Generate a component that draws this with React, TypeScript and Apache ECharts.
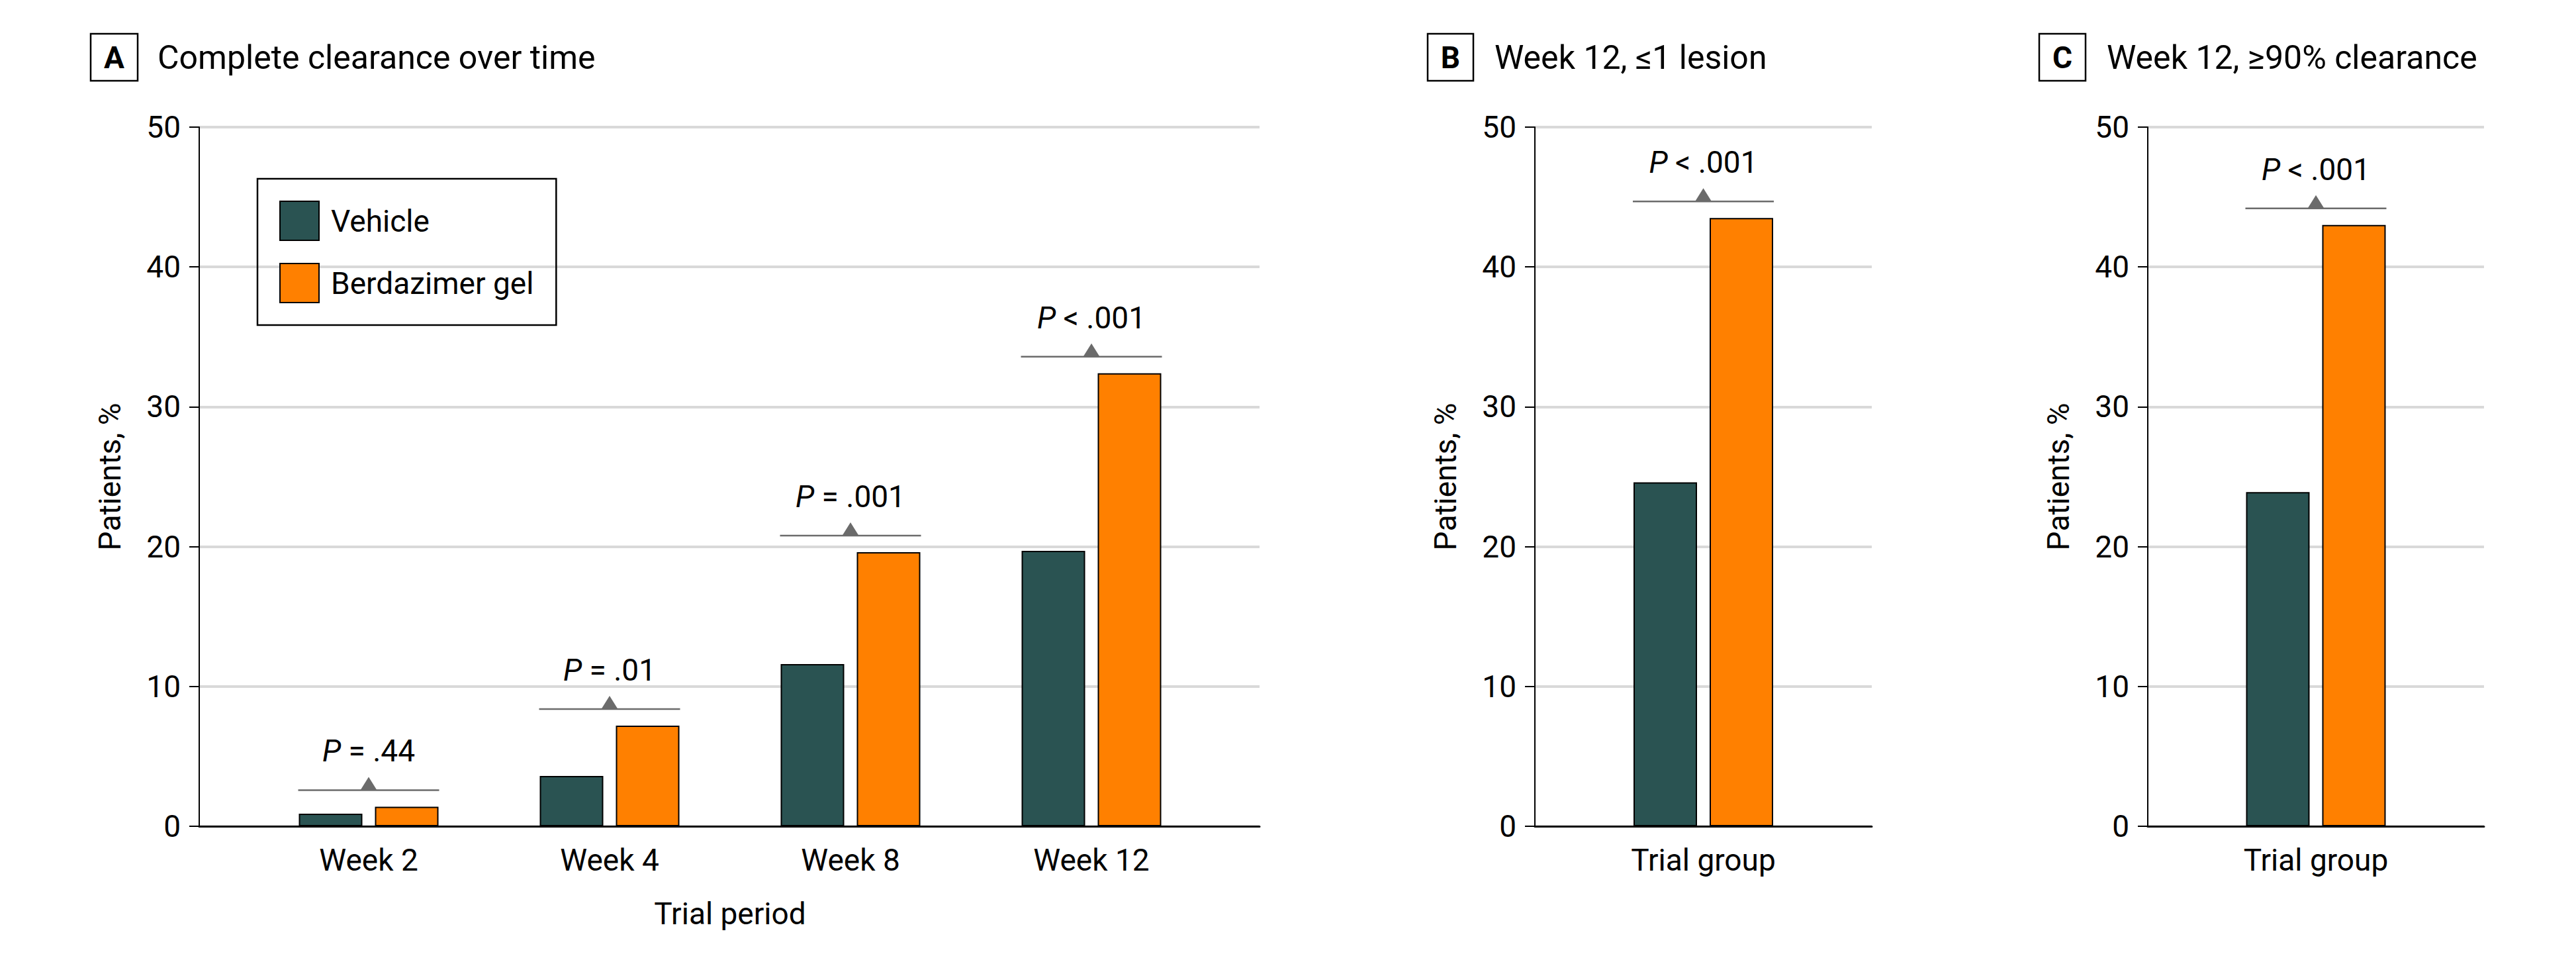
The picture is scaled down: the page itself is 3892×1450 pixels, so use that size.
import React, { useEffect, useRef } from 'react';
import * as echarts from 'echarts';

// ---------- data ----------
const weeks = ['Week 2', 'Week 4', 'Week 8', 'Week 12'];
const vehicleA = [0.9, 3.6, 11.6, 19.7];
const berdazimerA = [1.4, 7.2, 19.6, 32.4];
const pLabelsA = ['= .44', '= .01', '= .001', '< .001'];

const groupB = ['Trial group'];
const vehicleB = [24.6];
const berdazimerB = [43.5];
const pLabelsB = ['< .001'];

const groupC = ['Trial group'];
const vehicleC = [23.9];
const berdazimerC = [43.0];
const pLabelsC = ['< .001'];

const yMin = 0;
const yMax = 50;
const yStep = 10;

const seriesNames = ['Vehicle', 'Berdazimer gel'];
const panelTitles = ['Complete clearance over time', 'Week 12, \u22641 lesion', 'Week 12, \u226590% clearance'];
const panelLetters = ['A', 'B', 'C'];

// ---------- style ----------
const FONT = 'Roboto';
const C_VEH = '#2a5352';
const C_BER = '#ff8000';
const C_GRID = '#d9d9d9';
const C_BRACKET = '#6b6b6b';
const BAR_W = 96;
const BAR_GAP_PX = 19;
const LABEL_SIZE = 46;

const yAxisVisible = (gridIndex: number) => ({
  type: 'value',
  gridIndex,
  min: yMin,
  max: yMax,
  interval: yStep,
  name: 'Patients, %',
  nameLocation: 'middle',
  nameRotate: 90,
  nameGap: 112,
  nameTextStyle: { fontSize: LABEL_SIZE, fontFamily: FONT, color: '#000' },
  axisLine: { show: true, lineStyle: { color: '#000', width: 2 } },
  axisTick: { show: true, length: 15, lineStyle: { color: '#000', width: 2 } },
  axisLabel: { margin: 28, fontSize: LABEL_SIZE, fontFamily: FONT, color: '#000' },
  splitLine: { show: true, lineStyle: { color: C_GRID, width: 4 } },
});

const bracketSeries = (axisIndex: number, labels: string[], v1: number[], v2: number[]) => ({
  type: 'custom',
  xAxisIndex: axisIndex,
  yAxisIndex: axisIndex,
  silent: true,
  z: 10,
  data: labels.map((_, i) => [i, Math.max(v1[i], v2[i])]),
  renderItem: (params: any, api: any) => {
    const pt = api.coord([api.value(0), api.value(1)]);
    const cx = pt[0];
    const ly = pt[1] - 25;
    const half = BAR_W + BAR_GAP_PX / 2 + 1;
    return {
      type: 'group',
      children: [
        {
          type: 'line',
          shape: { x1: cx - half, y1: ly, x2: cx + half, y2: ly },
          style: { stroke: C_BRACKET, lineWidth: 2.5 },
        },
        {
          type: 'polygon',
          shape: { points: [[cx - 12.5, ly], [cx + 12.5, ly], [cx, ly - 20]] },
          style: { fill: C_BRACKET },
        },
        {
          type: 'text',
          x: cx,
          y: ly - 59,
          style: {
            text: '{i|P} ' + labels[params.dataIndex],
            rich: { i: { fontStyle: 'italic', fontSize: LABEL_SIZE, fontFamily: FONT, fill: '#000' } },
            fontSize: LABEL_SIZE,
            fontFamily: FONT,
            fill: '#000',
            align: 'center',
            verticalAlign: 'middle',
          },
        },
      ],
    };
  },
});

const barSeries = (axisIndex: number, name: string, data: number[], color: string) => ({
  type: 'bar',
  name,
  xAxisIndex: axisIndex,
  yAxisIndex: axisIndex,
  data,
  barWidth: BAR_W,
  barGap: (BAR_GAP_PX / BAR_W) * 100 + '%',
  itemStyle: { color, borderColor: '#000', borderWidth: 2 },
});

const titleGraphics = (boxX: number, boxW: number, textX: number, letter: string, title: string) => [
  {
    type: 'rect',
    shape: { x: boxX, y: 51, width: boxW, height: 71 },
    style: { fill: 'none', stroke: '#000', lineWidth: 2.5 },
  },
  {
    type: 'text',
    x: boxX + boxW / 2,
    y: 87,
    style: { text: letter, fontSize: 46, fontWeight: 'bold', fontFamily: FONT, fill: '#000', align: 'center', verticalAlign: 'middle' },
  },
  {
    type: 'text',
    x: textX,
    y: 87,
    style: { text: title, fontSize: 50, fontFamily: FONT, fill: '#000', align: 'left', verticalAlign: 'middle' },
  },
];

export default function App() {
  const ref = useRef<HTMLDivElement>(null);

  useEffect(() => {
    if (!ref.current) return;
    const chart = echarts.init(ref.current, undefined, { renderer: 'svg' });
    const top = 192;
    const height = 1056;

    const option: any = {
      animation: false,
      backgroundColor: '#fff',
      textStyle: { fontFamily: FONT },
      legend: {
        data: seriesNames,
        left: 389,
        top: 270,
        orient: 'vertical',
        icon: 'rect',
        itemWidth: 59,
        itemHeight: 59,
        itemGap: 33,
        padding: [33, 34, 33, 33],
        borderColor: '#000',
        borderWidth: 2.5,
        selectedMode: false,
        itemStyle: { borderColor: '#000', borderWidth: 2 },
        textStyle: { fontSize: LABEL_SIZE, fontFamily: FONT, color: '#000', padding: [0, 0, 0, 13] },
      },
      grid: [
        { left: 301, top, width: 1602, height },
        { left: 375, top, width: 1456, height },
        { left: 2319, top, width: 509, height },
        { left: 3245, top, width: 508, height },
      ],
      xAxis: [
        {
          type: 'value',
          gridIndex: 0,
          min: 0,
          max: 1,
          axisLine: { show: true, lineStyle: { color: '#111', width: 3 } },
          axisTick: { show: false },
          axisLabel: { show: false },
          splitLine: { show: false },
        },
        {
          type: 'category',
          gridIndex: 1,
          data: weeks,
          name: 'Trial period',
          nameLocation: 'middle',
          nameGap: 109,
          nameTextStyle: { fontSize: LABEL_SIZE, fontFamily: FONT, color: '#000' },
          axisLine: { show: false },
          axisTick: { show: false },
          axisLabel: { margin: 28, fontSize: LABEL_SIZE, fontFamily: FONT, color: '#000' },
        },
        {
          type: 'category',
          gridIndex: 2,
          data: groupB,
          axisLine: { show: true, lineStyle: { color: '#111', width: 3 } },
          axisTick: { show: false },
          axisLabel: { margin: 28, fontSize: LABEL_SIZE, fontFamily: FONT, color: '#000' },
        },
        {
          type: 'category',
          gridIndex: 3,
          data: groupC,
          axisLine: { show: true, lineStyle: { color: '#111', width: 3 } },
          axisTick: { show: false },
          axisLabel: { margin: 28, fontSize: LABEL_SIZE, fontFamily: FONT, color: '#000' },
        },
      ],
      yAxis: [
        yAxisVisible(0),
        { type: 'value', gridIndex: 1, min: yMin, max: yMax, interval: yStep, show: false },
        yAxisVisible(2),
        yAxisVisible(3),
      ],
      series: [
        barSeries(1, seriesNames[0], vehicleA, C_VEH),
        barSeries(1, seriesNames[1], berdazimerA, C_BER),
        bracketSeries(1, pLabelsA, vehicleA, berdazimerA),
        barSeries(2, seriesNames[0], vehicleB, C_VEH),
        barSeries(2, seriesNames[1], berdazimerB, C_BER),
        bracketSeries(2, pLabelsB, vehicleB, berdazimerB),
        barSeries(3, seriesNames[0], vehicleC, C_VEH),
        barSeries(3, seriesNames[1], berdazimerC, C_BER),
        bracketSeries(3, pLabelsC, vehicleC, berdazimerC),
      ],
      graphic: [
        ...titleGraphics(137, 71, 238, panelLetters[0], panelTitles[0]),
        ...titleGraphics(2157, 69, 2258, panelLetters[1], panelTitles[1]),
        ...titleGraphics(3081, 70, 3183, panelLetters[2], panelTitles[2]),
      ],
    };

    chart.setOption(option);
    return () => chart.dispose();
  }, []);

  return (
    <div
      ref={ref}
      style={{ position: 'absolute', left: 0, top: 0, width: 3892, height: 1450, background: '#fff' }}
    />
  );
}
